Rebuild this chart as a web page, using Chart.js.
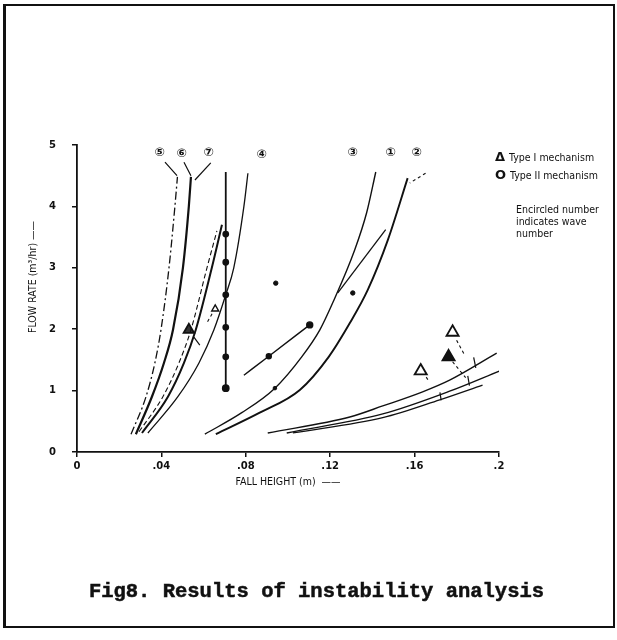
<!DOCTYPE html>
<html>
<head>
<meta charset="utf-8">
<script src="https://cdn.jsdelivr.net/npm/chart.js@4.4.1/dist/chart.umd.min.js"></script>
<style>
body { margin: 0; background: #fff; }
#wrap { position: relative; width: 617px; height: 640px; overflow: hidden; background: #fff; }
#frame { position: absolute; left: 3px; top: 4px; width: 607px; height: 620px; border: 2px solid #111; border-left-width: 3px; }
canvas { position: absolute; left: 0; top: 0; }
.txt { position: absolute; color: #111; font-family: "DejaVu Sans Condensed", "Liberation Sans Narrow", "Liberation Sans", sans-serif; white-space: nowrap; }
#ytitle { left: 32px; top: 277px; font-size: 10.5px; transform: translate(-50%, -50%) rotate(-90deg); }
#leg1, #leg2 { left: 495px; font-size: 10.5px; }
#leg1 { top: 149px; }
#leg2 { top: 167px; }
.sym { font-family: "DejaVu Sans", sans-serif; font-weight: bold; font-size: 13px; margin-right: 4px; }
#note { left: 516px; top: 203px; font-size: 10.5px; line-height: 12px; }
#caption { left: 8px; width: 617px; top: 580px; text-align: center; font-family: "Liberation Mono", "DejaVu Sans Mono", monospace; font-weight: bold; font-size: 20.5px; -webkit-text-stroke: 0.5px #111; }
</style>
</head>
<body>
<div id="wrap">
  <canvas id="chart" width="617" height="640"></canvas>
  <div id="frame"></div>
  <div class="txt" id="ytitle">FLOW RATE (m³/hr) ——</div>
  <div class="txt" id="leg1"><span class="sym">Δ</span>Type I mechanism</div>
  <div class="txt" id="leg2"><span class="sym">O</span>Type II mechanism</div>
  <div class="txt" id="note">Encircled number<br>indicates wave<br>number</div>
  <div class="txt" id="caption">Fig8. Results of instability analysis</div>
</div>
<script>
// tick values
var xTicks = [0, 0.04, 0.08, 0.12, 0.16, 0.2];
var yTicks = [0, 1, 2, 3, 4, 5];

// curves (fall height m, flow rate m3/hr)
var wave5X = [0.0256, 0.0327, 0.0369, 0.0398, 0.0436, 0.0464, 0.0476];
var wave5Y = [0.29, 0.9, 1.45, 1.99, 3.0, 4.0, 4.48];
var wave6X = [0.0279, 0.0355, 0.0412, 0.0455, 0.0502, 0.0530, 0.0540];
var wave6Y = [0.29, 0.9, 1.45, 1.99, 3.0, 4.0, 4.48];
var wave7X = [0.0308, 0.0431, 0.0507, 0.0563, 0.0639, 0.0687];
var wave7Y = [0.31, 0.9, 1.45, 1.99, 3.0, 3.7];
var wave7bX = [0.0294, 0.0407, 0.0483, 0.0540, 0.0616, 0.0663];
var wave7bY = [0.33, 0.9, 1.45, 1.99, 3.0, 3.6];
var wave4X = [0.0336, 0.0478, 0.0578, 0.0649, 0.0705, 0.0743, 0.0791, 0.0810];
var wave4Y = [0.31, 0.9, 1.45, 1.99, 2.56, 3.0, 4.0, 4.54];
var wave3X = [0.0606, 0.0781, 0.0938, 0.1065, 0.1151, 0.1212, 0.1316, 0.1373, 0.1416];
var wave3Y = [0.29, 0.64, 1.04, 1.55, 1.99, 2.43, 3.29, 3.9, 4.56];
var wave1X = [0.0658, 0.0866, 0.1056, 0.1193, 0.1293, 0.1378, 0.1473, 0.1567];
var wave1Y = [0.29, 0.64, 1.01, 1.55, 2.10, 2.64, 3.45, 4.46];
var lowJX = [0.0904, 0.1293, 0.1449, 0.1638, 0.1766, 0.1989];
var lowJY = [0.31, 0.57, 0.75, 0.98, 1.17, 1.61];
var lowKX = [0.0994, 0.1449, 0.1766, 0.2003];
var lowKY = [0.31, 0.62, 0.99, 1.32];
var lowLX = [0.1023, 0.1449, 0.1719, 0.1922];
var lowLY = [0.31, 0.56, 0.85, 1.09];

// measured points
var vertX = [0.0705, 0.0705, 0.0705, 0.0705, 0.0705, 0.0705, 0.0705];
var vertY = [1.04, 1.55, 2.03, 2.56, 3.09, 3.55, 4.56];
var segEX = [0.0791, 0.0909, 0.1103];
var segEY = [1.25, 1.56, 2.07];
var segHX = [0.1236, 0.1463];
var segHY = [2.59, 3.62];
var dotX = [0.0942, 0.1307, 0.0938];
var dotY = [2.75, 2.59, 1.04];

// type I mechanism points
var triX = [0.0530, 0.1780, 0.1761, 0.1629];
var triY = [1.99, 1.95, 1.55, 1.32];
var triFill = ['#333', '#fff', '#111', '#fff'];
var smallTriX = [0.0655];
var smallTriY = [2.33];

// wave number labels
var waveText = ['⑤', '⑥', '⑦', '④', '③', '①', '②'];
var waveX = [0.0393, 0.0497, 0.0625, 0.0876, 0.1307, 0.1487, 0.1610];
var waveY = [4.87, 4.85, 4.87, 4.84, 4.87, 4.87, 4.87];

// leader lines and small crossing ticks, [x0, y0, x1, y1]
var leaders = [
  [0.0417, 4.72, 0.0474, 4.50],
  [0.0507, 4.72, 0.0540, 4.50],
  [0.0634, 4.71, 0.0559, 4.43],
  [0.0554, 1.87, 0.0582, 1.74],
  [0.1880, 1.54, 0.1890, 1.37],
  [0.1852, 1.24, 0.1860, 1.08],
  [0.1720, 0.97, 0.1726, 0.84]
];
var dashedLeaders = [
  [0.1652, 4.54, 0.1577, 4.38],
  [0.1799, 1.82, 0.1837, 1.58],
  [0.1780, 1.47, 0.1842, 1.21],
  [0.1655, 1.22, 0.1670, 1.14],
  [0.0640, 2.25, 0.0615, 2.10]
];

function pts(xs, ys) {
  return xs.map(function(x, i) { return {x: x, y: ys[i]}; });
}

function curve(xs, ys, width, dash) {
  return {
    data: pts(xs, ys), showLine: true, cubicInterpolationMode: 'monotone',
    borderColor: '#111', borderWidth: width, borderDash: dash || [],
    pointRadius: 0, fill: false
  };
}

var datasets = [
  curve(wave5X, wave5Y, 1.3, [8, 3, 2, 3]),
  curve(wave6X, wave6Y, 2.2),
  curve(wave7X, wave7Y, 2.0),
  curve(wave7bX, wave7bY, 1.1, [5, 3]),
  curve(wave4X, wave4Y, 1.3),
  curve(wave3X, wave3Y, 1.4),
  curve(wave1X, wave1Y, 1.9),
  curve(lowJX, lowJY, 1.4),
  curve(lowKX, lowKY, 1.4),
  curve(lowLX, lowLY, 1.3),
  {
    data: pts(vertX, vertY), showLine: true, tension: 0,
    borderColor: '#111', borderWidth: 1.8,
    pointRadius: [3, 2.5, 2.5, 2.5, 2.5, 2.5, 0],
    pointBackgroundColor: '#111', pointBorderColor: '#111'
  },
  {
    data: pts(segEX, segEY), showLine: true, cubicInterpolationMode: 'monotone',
    borderColor: '#111', borderWidth: 1.4,
    pointRadius: [0, 2.5, 3], pointBackgroundColor: '#111', pointBorderColor: '#111'
  },
  curve(segHX, segHY, 1.3),
  {
    data: pts(dotX, dotY), showLine: false,
    pointRadius: [2.2, 2.2, 1.8], pointBackgroundColor: '#111', pointBorderColor: '#111'
  },
  {
    data: pts(triX, triY), showLine: false, pointStyle: 'triangle',
    pointRadius: [6, 7, 7, 7], pointBorderWidth: 1.8, pointBorderColor: '#111',
    pointBackgroundColor: triFill
  },
  {
    data: pts(smallTriX, smallTriY), showLine: false, pointStyle: 'triangle',
    pointRadius: 4, pointBorderWidth: 1.4, pointBorderColor: '#111',
    pointBackgroundColor: '#fff'
  }
];

leaders.forEach(function(l) {
  datasets.push(curve([l[0], l[2]], [l[1], l[3]], 1.2));
});
dashedLeaders.forEach(function(l) {
  datasets.push(curve([l[0], l[2]], [l[1], l[3]], 1.1, [3, 3]));
});

var waveLabels = {
  id: 'waveLabels',
  afterDatasetsDraw: function(chart) {
    var ctx = chart.ctx, xs = chart.scales.x, ys = chart.scales.y;
    ctx.save();
    ctx.fillStyle = '#111';
    ctx.font = 'bold 12px "DejaVu Sans", sans-serif';
    ctx.textAlign = 'center';
    ctx.textBaseline = 'middle';
    waveText.forEach(function(t, i) {
      ctx.fillText(t, xs.getPixelForValue(waveX[i]), ys.getPixelForValue(waveY[i]));
    });
    ctx.restore();
  }
};

function fmtX(v) {
  if (v === 0) return '0';
  return v.toFixed(2).replace(/^0/, '').replace(/0$/, '');
}

var tickFont = {family: '"DejaVu Sans", sans-serif', size: 10, weight: 'bold'};

new Chart(document.getElementById('chart').getContext('2d'), {
  type: 'scatter',
  data: {datasets: datasets},
  options: {
    responsive: false,
    animation: false,
    layout: {padding: {left: 0, top: 145, right: 118, bottom: 148}},
    plugins: {legend: {display: false}, tooltip: {enabled: false}},
    scales: {
      x: {
        type: 'linear', min: 0, max: 0.2,
        afterFit: function(s) { s.height = 40; },
        afterBuildTicks: function(s) { s.ticks = xTicks.map(function(v) { return {value: v}; }); },
        ticks: {callback: fmtX, color: '#111', font: tickFont, padding: 3, maxRotation: 0, autoSkip: false},
        grid: {drawOnChartArea: false, drawTicks: true, tickLength: 5, color: '#111', lineWidth: 1.5},
        border: {color: '#111', width: 1.8},
        title: {
          display: true, text: 'FALL HEIGHT (m)  ——', color: '#111',
          font: {family: '"DejaVu Sans Condensed", "Liberation Sans Narrow", "Liberation Sans", sans-serif', size: 10.5},
          padding: {top: 0, bottom: 3}
        }
      },
      y: {
        type: 'linear', min: 0, max: 5,
        afterFit: function(s) { s.width = 77; },
        afterBuildTicks: function(s) { s.ticks = yTicks.map(function(v) { return {value: v}; }); },
        ticks: {color: '#111', font: tickFont, padding: 16, autoSkip: false},
        grid: {drawOnChartArea: false, drawTicks: true, tickLength: 5, color: '#111', lineWidth: 1.5},
        border: {color: '#111', width: 1.8}
      }
    }
  },
  plugins: [waveLabels]
});
</script>
</body>
</html>
